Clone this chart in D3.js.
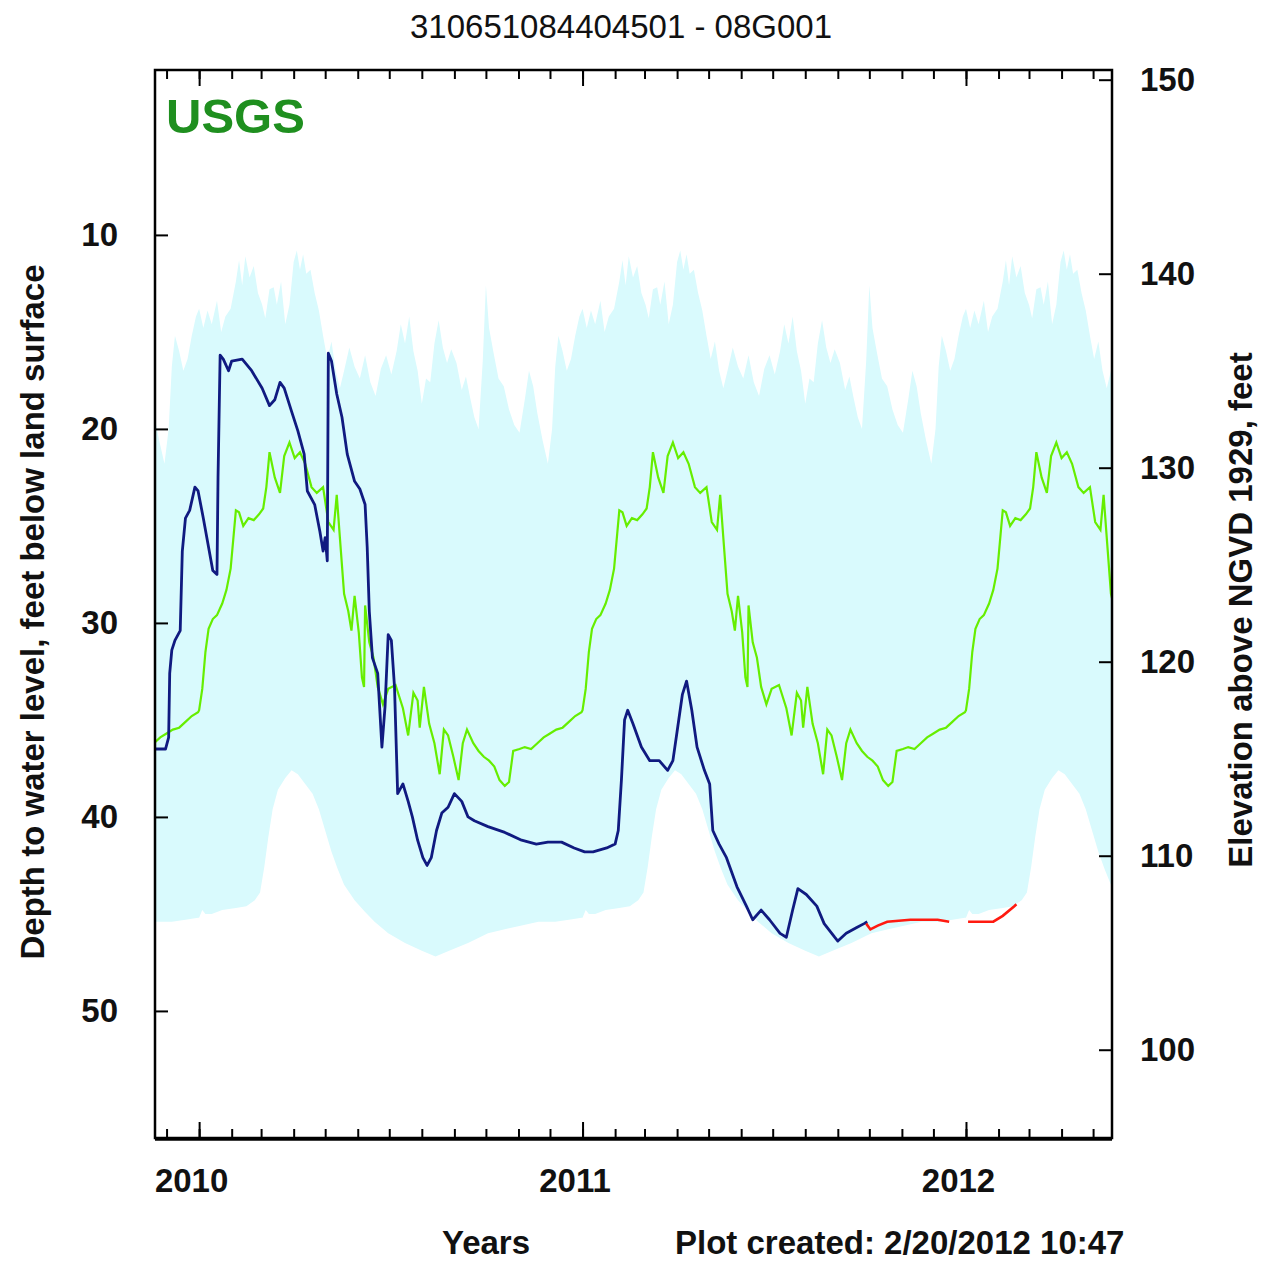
<!DOCTYPE html>
<html>
<head>
<meta charset="utf-8">
<script src="https://cdn.jsdelivr.net/npm/d3@7"></script>
<style>
  body { margin: 0; background: #fff; }
  text { font-family: "Liberation Sans", Arial, sans-serif; }
</style>
</head>
<body>
<script>
// measured depth to water (approved), feet below land surface
var blueDates = ["2009-11-20","2009-11-30","2009-12-03","2009-12-04","2009-12-06","2009-12-09","2009-12-14","2009-12-16","2009-12-19","2009-12-23","2009-12-28","2009-12-31","2010-01-05","2010-01-10","2010-01-14","2010-01-18","2010-01-19","2010-01-21","2010-01-24","2010-01-29","2010-02-01","2010-02-11","2010-02-20","2010-03-02","2010-03-09","2010-03-14","2010-03-19","2010-03-23","2010-03-30","2010-04-05","2010-04-11","2010-04-14","2010-04-21","2010-04-26","2010-04-29","2010-05-01","2010-05-03","2010-05-04","2010-05-07","2010-05-12","2010-05-17","2010-05-22","2010-05-29","2010-06-03","2010-06-08","2010-06-10","2010-06-12","2010-06-15","2010-06-20","2010-06-24","2010-06-27","2010-06-30","2010-07-03","2010-07-06","2010-07-09","2010-07-14","2010-07-19","2010-07-23","2010-07-28","2010-08-02","2010-08-06","2010-08-10","2010-08-15","2010-08-20","2010-08-26","2010-09-01","2010-09-08","2010-09-14","2010-09-20","2010-10-03","2010-10-19","2010-11-04","2010-11-18","2010-11-29","2010-12-12","2010-12-24","2011-01-03","2011-01-11","2011-01-24","2011-02-01","2011-02-04","2011-02-07","2011-02-10","2011-02-13","2011-02-18","2011-02-26","2011-03-06","2011-03-15","2011-03-23","2011-03-28","2011-04-01","2011-04-06","2011-04-10","2011-04-15","2011-04-20","2011-04-27","2011-05-02","2011-05-05","2011-05-11","2011-05-18","2011-05-28","2011-06-06","2011-06-12","2011-06-20","2011-06-28","2011-07-08","2011-07-14","2011-07-20","2011-07-25","2011-08-02","2011-08-12","2011-08-19","2011-08-29","2011-09-01","2011-09-09","2011-09-19","2011-09-26","2011-09-29"];
var blueDepth = [36.5,36.5,35.9,32.6,31.4,30.9,30.4,26.3,24.6,24.2,23.0,23.2,24.6,26.1,27.3,27.5,22.5,16.2,16.4,17.0,16.5,16.4,17.0,17.9,18.8,18.5,17.6,17.9,19.1,20.1,21.3,23.2,23.9,25.3,26.3,25.6,26.8,16.1,16.5,18.2,19.4,21.3,22.7,23.1,23.9,26.1,29.4,31.8,32.6,36.4,34.3,30.6,30.9,33.3,38.8,38.3,39.2,40.0,41.2,42.1,42.5,42.1,40.7,39.8,39.5,38.8,39.2,40.0,40.2,40.5,40.8,41.2,41.4,41.3,41.3,41.6,41.8,41.8,41.6,41.4,40.7,38.1,35.0,34.5,35.2,36.4,37.1,37.1,37.6,37.1,35.6,33.7,33.0,34.5,36.4,37.6,38.3,40.7,41.4,42.1,43.6,44.6,45.3,44.8,45.3,46.0,46.2,44.8,43.7,44.0,44.6,45.5,46.2,46.4,46.0,45.7,45.5,45.4];

// provisional data (null = gap)
var redDates = ["2011-09-28","2011-10-02","2011-10-09","2011-10-18","2011-11-09","2011-12-05","2011-12-16","2011-12-26","2012-01-03","2012-01-27","2012-02-05","2012-02-16","2012-02-18"];
var redDepth = [45.5,45.8,45.6,45.4,45.3,45.3,45.4,null,45.4,45.4,45.1,44.6,44.5];

// daily statistics by day of year (repeat every year)
var medianDoy = [0,3,6,9,13,17,22,26,30,33,35,38,42,47,52,57,61,64,67,72,77,81,86,91,96,101,107,112,118,123,128,131,134,138,142,145,148,152,155,157,158,162,166,170,175,180,187,194,199,204,208,210,214,219,224,229,233,237,242,247,251,255,261,266,271,276,281,286,291,295,299,305,310,316,322,328,334,340,346,352,358,364];
var medianDepth = [34.5,33.4,31.5,30.3,29.8,29.6,29.0,28.3,27.2,25.4,24.2,24.3,25.0,24.6,24.7,24.4,24.1,23.0,21.2,22.5,23.3,21.4,20.7,21.5,21.2,21.8,23.0,23.3,23.0,24.8,25.2,23.4,25.6,28.5,29.4,30.4,28.6,30.5,32.8,33.3,29.1,31.0,31.8,33.3,34.2,33.4,33.2,34.4,35.8,33.6,34.0,35.4,33.3,35.2,36.2,37.8,35.5,35.8,36.9,38.1,36.2,35.5,36.2,36.6,36.9,37.1,37.4,38.1,38.4,38.2,36.6,36.5,36.4,36.5,36.2,35.9,35.7,35.5,35.4,35.1,34.8,34.6];

var minDoy = [0,4,8,12,17,21,25,30,35,38,41,44,48,52,56,60,63,67,71,74,78,82,86,90,93,96,99,102,106,110,114,118,122,126,130,134,138,143,148,153,158,163,168,173,178,183,188,192,196,200,204,208,212,216,220,224,228,232,236,240,245,250,254,258,262,266,270,273,276,280,285,290,295,300,305,310,314,318,322,327,332,336,339,342,346,350,354,358,362];
var minDepth = [13.8,14.8,13.9,14.6,13.4,15.0,14.2,13.8,12.4,11.3,12.6,11.1,12.2,11.6,13.0,13.6,14.3,12.8,12.7,13.6,12.4,14.6,13.6,11.4,10.8,11.8,11.0,12.0,11.8,13.0,13.9,15.2,16.4,15.5,17.0,17.9,17.0,15.8,16.8,17.4,16.2,17.6,18.3,16.9,16.2,17.2,16.0,14.6,15.6,14.2,16.0,17.0,18.7,17.4,17.6,15.6,14.4,15.8,16.6,15.9,16.6,18.0,17.3,18.4,19.4,20.0,16.5,12.6,14.8,16.0,17.4,17.8,19.0,19.8,20.2,18.5,17.0,17.8,19.2,20.6,21.8,20.0,16.8,15.2,16.0,17.0,16.4,15.2,14.2];

var maxDoy = [0,3,6,12,22,35,45,53,58,62,66,70,75,82,88,94,101,108,114,120,126,132,138,148,158,167,180,196,212,225,238,256,275,290,307,323,339,352,364];
var maxDepth = [45.2,44.8,45.0,45.0,44.8,44.7,44.6,44.3,43.9,42.6,41.0,39.6,38.6,38.0,37.6,37.8,38.3,38.8,39.6,40.7,41.8,42.7,43.5,44.3,44.9,45.4,46.0,46.5,46.9,47.2,46.9,46.5,46.0,45.8,45.6,45.4,45.4,45.3,45.2];

var statYears = [2009, 2010, 2011, 2012];
var depthTicks = [10, 20, 30, 40, 50];
var elevTicks = [100, 110, 120, 130, 140, 150];
var landSurface = 152;

var W = 1262, H = 1261,
    plot = {left: 155, right: 1112, top: 70, bottom: 1138};

var parse = d3.timeParse("%Y-%m-%d");

var svg = d3.select("body").append("svg")
  .attr("width", W)
  .attr("height", H);

var x = d3.scaleTime()
  .domain([new Date(2009, 10, 20), new Date(2012, 4, 19)])
  .range([plot.left, plot.right]);
var y = d3.scaleLinear().domain([1.5, 56.55]).range([plot.top, plot.bottom]);
var yElev = d3.scaleLinear()
  .domain([landSurface - 1.5, landSurface - 56.55])
  .range([plot.top, plot.bottom]);

svg.append("clipPath").attr("id", "clip")
  .append("rect")
  .attr("x", plot.left).attr("y", plot.top)
  .attr("width", plot.right - plot.left)
  .attr("height", plot.bottom - plot.top);

function yearly(doys, depths) {
  var out = [];
  statYears.forEach(function (yr) {
    var start = new Date(yr, 0, 1);
    doys.forEach(function (d, i) {
      out.push({date: d3.timeDay.offset(start, d), depth: depths[i]});
    });
  });
  return out;
}

var line = d3.line()
  .defined(function (d) { return d.depth != null; })
  .x(function (d) { return x(d.date); })
  .y(function (d) { return y(d.depth); });

var g = svg.append("g").attr("clip-path", "url(#clip)");

// min / max band
var topPts = yearly(minDoy, minDepth),
    botPts = yearly(maxDoy, maxDepth);
g.append("path")
  .attr("d", line(topPts.concat(botPts.slice().reverse())) + "Z")
  .attr("fill", "#d9fafd")
  .attr("stroke", "none");

// median
g.append("path")
  .attr("d", line(yearly(medianDoy, medianDepth)))
  .attr("fill", "none")
  .attr("stroke", "#66ee00")
  .attr("stroke-width", 2.2);

var blue = blueDates.map(function (d, i) { return {date: parse(d), depth: blueDepth[i]}; });
var red = redDates.map(function (d, i) { return {date: parse(d), depth: redDepth[i]}; });

g.append("path")
  .attr("d", line(blue))
  .attr("fill", "none")
  .attr("stroke", "#101a80")
  .attr("stroke-width", 2.8)
  .attr("stroke-linejoin", "round");

g.append("path")
  .attr("d", line(red))
  .attr("fill", "none")
  .attr("stroke", "#ff1a10")
  .attr("stroke-width", 2.6);

// axes
function styleAxis(sel) {
  sel.select(".domain").remove();
  sel.selectAll("line").attr("stroke", "#000").attr("stroke-width", 2);
  sel.selectAll("text")
    .attr("font-family", "Liberation Sans, Arial, sans-serif")
    .attr("font-size", 33)
    .attr("font-weight", "bold")
    .attr("fill", "#111");
}

svg.append("g").attr("transform", "translate(0," + plot.top + ")")
  .call(d3.axisTop(x).ticks(d3.timeMonth.every(1)).tickSize(-9).tickFormat(""))
  .call(styleAxis);
svg.append("g").attr("transform", "translate(0," + plot.top + ")")
  .call(d3.axisTop(x).ticks(d3.timeYear.every(1)).tickSize(-16).tickFormat(""))
  .call(styleAxis);

svg.append("g").attr("transform", "translate(0," + plot.bottom + ")")
  .call(d3.axisBottom(x).ticks(d3.timeMonth.every(1)).tickSize(-9).tickFormat(""))
  .call(styleAxis);
svg.append("g").attr("transform", "translate(0," + plot.bottom + ")")
  .call(d3.axisBottom(x).ticks(d3.timeYear.every(1)).tickSize(-16)
    .tickPadding(31).tickFormat(d3.timeFormat("%Y")))
  .call(styleAxis)
  .selectAll("text").attr("dx", -8);

svg.append("g").attr("transform", "translate(" + plot.left + ",0)")
  .call(d3.axisLeft(y).tickValues(depthTicks).tickSize(-13).tickPadding(37))
  .call(styleAxis);

svg.append("g").attr("transform", "translate(" + plot.right + ",0)")
  .call(d3.axisRight(yElev).tickValues(elevTicks).tickSize(-13).tickPadding(28))
  .call(styleAxis);

// frame
svg.append("rect")
  .attr("x", plot.left).attr("y", plot.top)
  .attr("width", plot.right - plot.left)
  .attr("height", plot.bottom - plot.top)
  .attr("fill", "none")
  .attr("stroke", "#000")
  .attr("stroke-width", 2.5);
svg.append("line")
  .attr("x1", plot.left).attr("x2", plot.right)
  .attr("y1", plot.bottom + 1).attr("y2", plot.bottom + 1)
  .attr("stroke", "#000").attr("stroke-width", 3.5);

// texts
svg.append("text")
  .attr("x", 621).attr("y", 38)
  .attr("text-anchor", "middle")
  .attr("font-size", 33)
  .attr("fill", "#111")
  .text("310651084404501 - 08G001");

svg.append("text")
  .attr("x", 166).attr("y", 133)
  .attr("font-size", 49)
  .attr("font-weight", "bold")
  .attr("fill", "#1f8f1f")
  .text("USGS");

svg.append("text")
  .attr("transform", "translate(44,612) rotate(-90)")
  .attr("text-anchor", "middle")
  .attr("font-size", 33)
  .attr("font-weight", "bold")
  .attr("fill", "#111")
  .text("Depth to water level, feet below land surface");

svg.append("text")
  .attr("transform", "translate(1252,610) rotate(-90)")
  .attr("text-anchor", "middle")
  .attr("font-size", 33)
  .attr("font-weight", "bold")
  .attr("fill", "#111")
  .text("Elevation above NGVD 1929, feet");

svg.append("text")
  .attr("x", 486).attr("y", 1254)
  .attr("text-anchor", "middle")
  .attr("font-size", 33)
  .attr("font-weight", "bold")
  .attr("fill", "#111")
  .text("Years");

svg.append("text")
  .attr("x", 675).attr("y", 1254)
  .attr("font-size", 33)
  .attr("font-weight", "bold")
  .attr("fill", "#111")
  .text("Plot created: 2/20/2012 10:47");
</script>
</body>
</html>
